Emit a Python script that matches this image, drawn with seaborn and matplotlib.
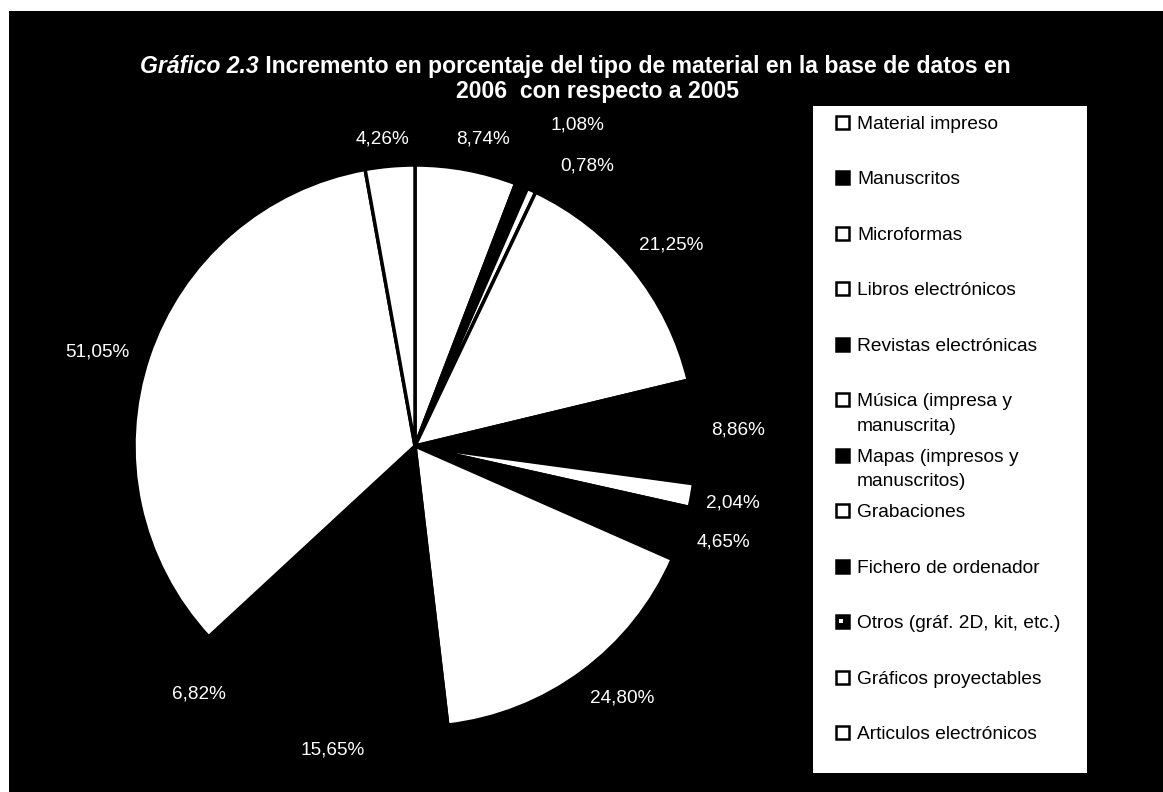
import numpy as np
import matplotlib
matplotlib.use("Agg")
import matplotlib.pyplot as plt
from matplotlib.patches import Rectangle
import seaborn as sns

# Data -----------------------------------------------------------------------
materiales = ["Material impreso", "Manuscritos", "Microformas",
              "Libros electrónicos", "Revistas electrónicas",
              "Música (impresa y\nmanuscrita)",
              "Mapas (impresos y\nmanuscritos)", "Grabaciones",
              "Fichero de ordenador", "Otros (gráf. 2D, kit, etc.)",
              "Gráficos proyectables", "Articulos electrónicos"]
incremento = [8.74, 1.08, 0.78, 21.25, 8.86, 2.04, 4.65, 24.80, 15.65,
              6.82, 51.05, 4.26]
colores = ["white", "black", "white", "white", "black", "white", "black",
           "white", "black", "black", "white", "white"]

titulo_a = "Gráfico 2.3"
titulo_b = " Incremento en porcentaje del tipo de material en la base de datos en"
titulo_c = "2006  con respecto a 2005"

# Layout (pixels, figure is 1163 x 792) -------------------------------------
W, H = 1163, 792
PIE_CENTER = (415, H - 446)
PIE_R = 281
# radial distance (x radius) and clockwise nudge (deg) for each value label
label_r = [1.12, 1.28, 1.17, 1.16, 1.15, 1.15, 1.15, 1.16, 1.12, 1.17, 1.18, 1.10]
label_shift = [2, 4.5, 7, 1, 0, 0, -1, -3, 3, 2, -2, -1]

sns.set_theme(style="white")
plt.rcParams["font.family"] = ["Liberation Sans", "DejaVu Sans"]


def pct_label(v):
    return f"{v:.2f}".replace(".", ",") + "%"


def draw_labels(ax, wedges, values):
    for w, v, f, d in zip(wedges, values, label_r, label_shift):
        ang = np.deg2rad((w.theta1 + w.theta2) / 2 - d)
        x = w.center[0] + w.r * f * np.cos(ang)
        y = w.center[1] + w.r * f * np.sin(ang)
        ax.text(x, y, pct_label(v), ha="center", va="center",
                color="white", fontsize=13.7, zorder=5)
    return ax


def draw_legend(ax, names, colors):
    """Legend box like the Excel one: fixed row pitch, first line on the row."""
    ax.add_patch(Rectangle((813, H - 773), 274, 667, facecolor="white",
                           edgecolor="none", zorder=3))
    for i, (name, col) in enumerate(zip(names, colors)):
        yc = H - (122 + i * 55.5)
        ax.add_patch(Rectangle((836, yc - 6.5), 13, 13, facecolor=col,
                               edgecolor="black", lw=1.8, zorder=4))
        if name.startswith("Otros"):
            # patterned swatch in the original
            ax.add_patch(Rectangle((839, yc - 1), 4, 4, facecolor="white",
                                   edgecolor="none", zorder=5))
        for k, line in enumerate(name.split("\n")):
            ax.text(857, yc - 6.9 - k * 24.5, line, ha="left", va="baseline",
                    fontsize=13.8, color="black", zorder=4)
    return ax


def draw_title(ax):
    t1 = ax.text(140, H - 73, titulo_a, fontsize=16.6, fontweight="bold",
                 fontstyle="italic", color="white", va="baseline", zorder=5)
    ax.annotate(titulo_b, xy=(1, 0), xycoords=t1, va="bottom", ha="left",
                fontsize=16.6, fontweight="bold", color="white", zorder=5)
    ax.text(598, H - 98, titulo_c, fontsize=16.6, fontweight="bold",
            color="white", ha="center", va="baseline", zorder=5)


fig = plt.figure(figsize=(W / 100, H / 100), dpi=100, facecolor="white")
ax = fig.add_axes([0, 0, 1, 1])

# black chart area (scan leaves a thin white margin top/left)
ax.add_patch(Rectangle((9, 0), W - 9, H - 11, facecolor="black",
                       edgecolor="none", zorder=0))

wedges, _ = ax.pie(incremento, colors=colores, startangle=90,
                   counterclock=False, center=PIE_CENTER, radius=PIE_R,
                   wedgeprops=dict(edgecolor="black", linewidth=2.5))
for w in wedges:
    w.set_zorder(2)

ax.set_xlim(0, W)
ax.set_ylim(0, H)
ax.set_aspect("auto")
ax.axis("off")

draw_labels(ax, wedges, incremento)
draw_legend(ax, materiales, colores)
draw_title(ax)

fig.savefig("out.png", dpi=100, facecolor="white")
